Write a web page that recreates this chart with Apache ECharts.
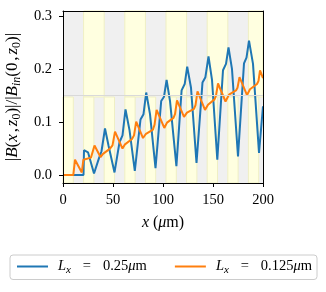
<!DOCTYPE html>
<html><head><meta charset="utf-8">
<script src="https://cdn.jsdelivr.net/npm/echarts@6/dist/echarts.min.js"></script>
<style>html,body{margin:0;padding:0;background:#fff}#c{width:326px;height:292px}</style>
</head><body><div id="c"></div>
<script>
// Lx = 0.25 um (blue)
const blueX = [0, 20.5, 21, 25, 31, 36, 38.5, 42, 45.5, 51.5, 56.5, 59.5, 62.5, 66.5, 71.8, 77.5, 80.5, 83.2, 87, 92.5, 98.2, 101, 103.6, 107, 113.4, 118.6, 121.7, 124.2, 128, 133.5, 139.5, 142.4, 145.5, 149, 154.3, 160, 163, 165.5, 169, 175, 181, 183.5, 186, 190, 196, 200];
const blueY = [0, 0, 0.047, 0.043, 0.003, 0.032, 0.045, 0.088, 0.056, 0.005, 0.062, 0.075, 0.124, 0.085, 0.008, 0.105, 0.115, 0.156, 0.115, 0.013, 0.14, 0.148, 0.180, 0.14, 0.017, 0.160, 0.172, 0.205, 0.165, 0.023, 0.175, 0.185, 0.224, 0.18, 0.029, 0.198, 0.21, 0.241, 0.2, 0.035, 0.211, 0.222, 0.254, 0.21, 0.042, 0.130];
// Lx = 0.125 um (orange)
const orangeX = [0, 10.3, 12, 18.8, 20.4, 28, 31.5, 37.5, 40, 47, 49.5, 52, 59.5, 62, 69, 71, 73.2, 80, 83, 90, 91.5, 93.6, 101.3, 104, 110.5, 112, 114, 121, 124, 131, 132.5, 134.5, 142, 145, 151.5, 153, 155, 162.5, 166, 173, 174.5, 176.5, 184, 187, 194, 195.5, 197, 200];
const orangeY = [0, 0, 0.029, 0.005, 0.029, 0.033, 0.056, 0.034, 0.040, 0.050, 0.056, 0.082, 0.050, 0.058, 0.068, 0.075, 0.101, 0.070, 0.078, 0.086, 0.095, 0.123, 0.089, 0.099, 0.108, 0.115, 0.141, 0.110, 0.118, 0.125, 0.132, 0.158, 0.123, 0.133, 0.143, 0.150, 0.173, 0.139, 0.152, 0.160, 0.165, 0.185, 0.151, 0.162, 0.172, 0.178, 0.198, 0.183];
const seriesNames = ['Lx = 0.25μm', 'Lx = 0.125μm'];
const xTicks = [0, 50, 100, 150, 200];
const yTicks = [0, 0.1, 0.2, 0.3];
// shaded regions (x intervals, um)
const topYellow = [[20.6, 41.2], [61.8, 82.4], [103, 123.6], [144.2, 164.8], [185.4, 200]];
const bottomYellow = [[0, 10.3], [20.6, 30.9], [41.2, 51.5], [61.8, 72.1], [82.4, 92.7], [103, 113.3], [123.6, 133.9], [144.2, 154.5], [164.8, 175.1], [185.4, 195.7]];
const yMin = -0.015, yMax = 0.31, yMid = (yMin + yMax) / 2;

const FONT = 'Liberation Serif';
const chart = echarts.init(document.getElementById('c'), null, {renderer: 'canvas'});
const areas = [];
topYellow.forEach(b => areas.push([{xAxis: b[0], yAxis: yMid}, {xAxis: b[1], yAxis: yMax}]));
bottomYellow.forEach(b => areas.push([{xAxis: b[0], yAxis: yMin}, {xAxis: b[1], yAxis: yMid}]));

const FS = 14.5;
function makeRich(fs, sfs, lh, slh) {
  return {
    n: {fontFamily: FONT, fontSize: fs, lineHeight: lh, color: '#000'},
    i: {fontFamily: FONT, fontSize: fs, lineHeight: lh, fontStyle: 'italic', color: '#000'},
    s: {fontFamily: FONT, fontSize: sfs, lineHeight: slh, verticalAlign: 'bottom', color: '#000'},
    si: {fontFamily: FONT, fontSize: sfs, lineHeight: slh, verticalAlign: 'bottom', fontStyle: 'italic', color: '#000'},
    eq: {fontFamily: FONT, fontSize: fs, lineHeight: lh, color: '#000', width: 32, align: 'center'},
    c: {fontFamily: FONT, fontSize: fs, lineHeight: lh, color: '#000', width: 8, align: 'left'}
  };
}
const legendRich = makeRich(FS, 11, 18, 12);
const titleRich = makeRich(17, 12, 21, 14);
const legendLabels = {
  'Lx = 0.25μm': '{i|L}{si|x}{eq|=}{n|0.25}{i|μ}{n|m}',
  'Lx = 0.125μm': '{i|L}{si|x}{eq|=}{n|0.125}{i|μ}{n|m}'
};

chart.setOption({
  animation: false,
  backgroundColor: '#fff',
  grid: {left: 63, right: 63, top: 11, bottom: 109, containLabel: false, outerBoundsMode: 'none',
    show: true, backgroundColor: '#f0f0f0', borderColor: '#000', borderWidth: 0},
  legend: {
    left: 10, top: 255,
    data: seriesNames,
    icon: 'rect', itemWidth: 31, itemHeight: 2, itemGap: 28,
    padding: [4, 5, 4, 7],
    borderColor: '#cccccc', borderWidth: 1, borderRadius: 3,
    formatter: n => legendLabels[n],
    textStyle: {fontFamily: FONT, fontSize: FS, rich: legendRich, padding: [0, 0, 0, 5]}
  },
  xAxis: [{
    type: 'value', min: 0, max: 200, interval: 50, z: 10,
    name: '{i|x}{n| (}{i|μ}{n|m)}', nameLocation: 'middle', nameGap: 30,
    nameTextStyle: {rich: makeRich(16, 11.5, 20, 13)},
    axisLine: {show: true, onZero: false, lineStyle: {color: '#000', width: 1}},
    axisTick: {show: true, inside: false, length: 4, lineStyle: {color: '#000'}},
    axisLabel: {color: '#000', fontFamily: FONT, fontSize: FS, margin: 10},
    splitLine: {show: false}
  }, {
    type: 'value', min: 0, max: 200, position: 'top', z: 10,
    axisLine: {show: true, onZero: false, lineStyle: {color: '#000', width: 1}},
    axisTick: {show: false}, axisLabel: {show: false}, splitLine: {show: false}
  }],
  yAxis: [{
    type: 'value', min: yMin, max: yMax, z: 10,
    name: '{n||}{i|B}{n|(}{i|x}{c|,}{i|z}{s|0}{n|)|/|}{i|B}{si|in}{n|(0}{c|,}{i|z}{s|0}{n|)|}',
    nameLocation: 'middle', nameGap: 34, nameRotate: 90,
    nameTextStyle: {rich: titleRich},
    axisLine: {show: true, onZero: false, lineStyle: {color: '#000', width: 1}},
    axisTick: {show: true, inside: false, length: 4, customValues: yTicks, lineStyle: {color: '#000'}},
    axisLabel: {color: '#000', fontFamily: FONT, fontSize: FS, margin: 11, customValues: yTicks, formatter: v => v.toFixed(1)},
    splitLine: {show: false}
  }, {
    type: 'value', min: yMin, max: yMax, position: 'right', z: 10,
    axisLine: {show: true, onZero: false, lineStyle: {color: '#000', width: 1}},
    axisTick: {show: false}, axisLabel: {show: false}, splitLine: {show: false}
  }],
  series: [{
    name: seriesNames[0], type: 'line', showSymbol: false, symbol: 'none',
    data: blueX.map((x, k) => [x, blueY[k]]),
    lineStyle: {color: '#1f77b4', width: 2}, itemStyle: {color: '#1f77b4'},
    markArea: {silent: true, itemStyle: {color: '#ffffe0', borderColor: '#efefc4', borderWidth: 1}, data: areas},
    markLine: {silent: true, symbol: 'none', label: {show: false}, lineStyle: {color: '#d9d9d9', width: 1, type: 'solid'}, data: [{yAxis: yMid}]}
  }, {
    name: seriesNames[1], type: 'line', showSymbol: false, symbol: 'none',
    data: orangeX.map((x, k) => [x, orangeY[k]]),
    lineStyle: {color: '#ff7f0e', width: 2}, itemStyle: {color: '#ff7f0e'}
  }]
});
</script></body></html>
